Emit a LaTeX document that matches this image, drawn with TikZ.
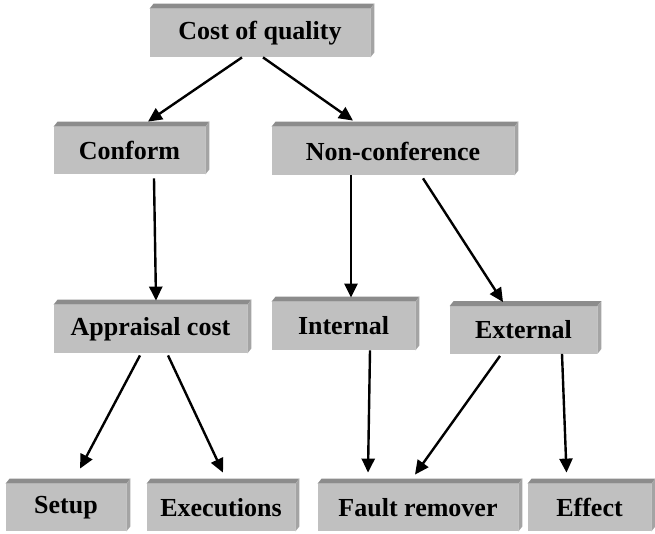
\documentclass[tikz,border=0pt]{standalone}
\usepackage{fontspec}
\setmainfont{Liberation Serif}
\usetikzlibrary{arrows.meta}
\definecolor{boxface}{HTML}{C0C0C0}
\definecolor{boxtop}{HTML}{8C8C8C}
\definecolor{boxside}{HTML}{A4A4A4}
\newcommand{\qfont}{\bfseries\fontsize{26}{30}\selectfont}

\begin{document}
\begin{tikzpicture}[x=1pt,y=1pt,style=thick]
			\useasboundingbox (0,0) rectangle (655,533);
			\begin{scope}[shape=rectangle,inner sep=0pt]
			\tikzstyle{every node}=[fill=boxface,font=\qfont]
			\node[minimum width=220,minimum height=48] (coq) at (260,500) {Cost of quality};
			\node[minimum width=151,minimum height=47] (conform) at (129.5,382.5) {Conform};
			\node[minimum width=242,minimum height=48] (noncon) at (393,382) {Non-conference};
			\node[minimum width=193,minimum height=48] (appraisal) at (150.5,204) {Appraisal cost};
			\node[minimum width=143,minimum height=48] (internal) at (343.5,207) {Internal};
			\node[minimum width=147,minimum height=47] (external) at (523.5,203) {External};
			\node[minimum width=120,minimum height=47] (setup) at (66,25.5) {Setup};
			\node[minimum width=148,minimum height=47] (executions) at (221,25.5) {Executions};
			\node[minimum width=200,minimum height=47] (fault) at (418,25.5) {Fault remover};
			\node[minimum width=123,minimum height=47] (effect) at (589.5,25.5) {Effect};
			% bevel edges
			\foreach \n in {coq,conform,noncon,appraisal,internal,external,setup,executions,fault,effect} {
				\fill[boxtop] (\n.north west) -- ++(4,5) -- ([shift={(4,5)}]\n.north east) -- (\n.north east) -- cycle;
				\fill[boxside] (\n.north east) -- ++(4,5) -- ([shift={(4,5)}]\n.south east) -- (\n.south east) -- cycle;
			}
			\end{scope}
			\begin{scope}[line width=2.4pt,-{Triangle[length=14pt,width=13pt]}]
			\draw ([xshift=-18]coq.south) -- ([xshift=18.5,yshift=5]conform.north);
			\draw ([xshift=3]coq.south) -- ([xshift=-40,yshift=6]noncon.north);
			\draw ([xshift=24.5,yshift=-4]conform.south) -- ([xshift=5.5,yshift=4]appraisal.north);
			\draw ([xshift=-42]noncon.south) -- ([xshift=7.5,yshift=4]internal.north);
			\draw ([xshift=30,yshift=-3]noncon.south) -- ([xshift=-20.5,yshift=4]external.north);
			\draw ([xshift=-10.5,yshift=-2]appraisal.south) -- ([xshift=14,yshift=15]setup.north);
			\draw ([xshift=17.5,yshift=-2]appraisal.south) -- ([xshift=2,yshift=11]executions.north);
			\draw ([xshift=26.5]internal.south) -- ([xshift=-50,yshift=11]fault.north);
			\draw ([xshift=-23.5,yshift=-2]external.south) -- ([xshift=-3,yshift=9]fault.north);
			\draw ([xshift=38.5]external.south) -- ([xshift=-23,yshift=11]effect.north);
			\end{scope}
		\end{tikzpicture}
\end{document}
